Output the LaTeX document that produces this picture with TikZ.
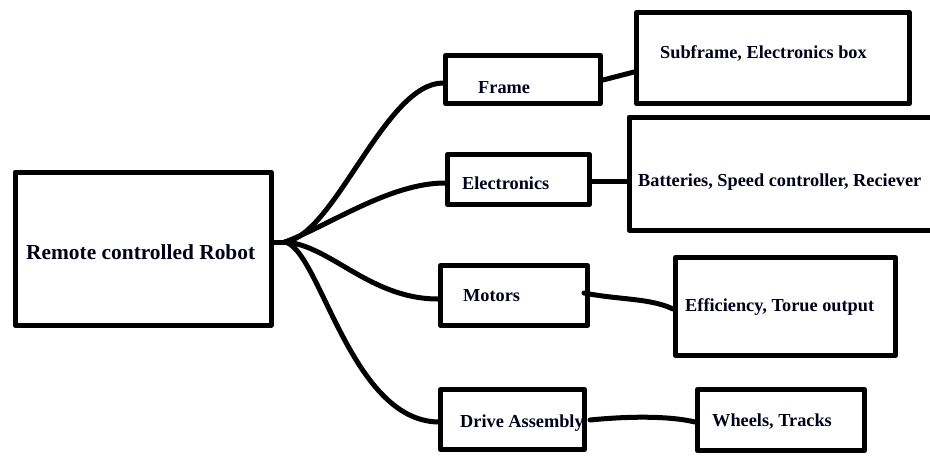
\documentclass[tikz,border=0pt]{standalone}
\usepackage{fontspec}
\setmainfont{Liberation Serif}
\begin{document}
\begin{tikzpicture}[x=1pt,y=-1pt,
  box/.style={draw=black,line width=5pt,line join=round,rectangle,inner sep=0pt,fill=none},
  lbl/.style={anchor=west,inner sep=0pt,font=\fontsize{18.3}{22}\selectfont\bfseries,text=black!90!blue},
  conn/.style={draw=black,line width=5pt,line cap=round,line join=round}]
\useasboundingbox (0,0) rectangle (930,456);
\clip (0,0) rectangle (930,456);
% boxes
\node[box,minimum width=256pt,minimum height=153pt] (main) at (143,248.5) {};
\node[box,minimum width=155pt,minimum height=48pt] (frame) at (523,79.5) {};
\node[box,minimum width=273pt,minimum height=91pt] (sub) at (773,58) {};
\node[box,minimum width=142pt,minimum height=50pt] (elec) at (518.5,179.5) {};
\node[box,minimum width=316pt,minimum height=113pt] (batt) at (787,173.5) {};
\node[box,minimum width=147pt,minimum height=60pt] (mot) at (514,295.5) {};
\node[box,minimum width=220pt,minimum height=98pt] (eff) at (785.5,306.5) {};
\node[box,minimum width=144pt,minimum height=60pt] (drive) at (512.5,419.5) {};
\node[box,minimum width=167pt,minimum height=61pt] (wheel) at (781,420) {};
% labels
\node[lbl,font=\fontsize{21.4}{25}\selectfont\bfseries] (tmain) at (26,252) {Remote controlled Robot};
\node[lbl] (tsub) at (660,53) {Subframe, Electronics box};
\node[lbl] (tframe) at (478,88) {Frame};
\node[lbl] (telec) at (462,183) {Electronics};
\node[lbl] (tbatt) at (638,182) {Batteries, Speed controller, Reciever};
\node[lbl] (tmot) at (463,296) {Motors};
\node[lbl] (teff) at (685,307) {Efficiency, Torue output};
\node[lbl] (tdrive) at (460,423) {Drive Assembly};
\node[lbl] (twheel) at (712,422) {Wheels, Tracks};
% connector points
\coordinate (j) at (main.east |- 0,242);
\coordinate (j2) at (285,242);
\coordinate (fin) at (frame.west |- 0,83);
\coordinate (ein) at (elec.west |- 0,183);
\coordinate (min) at (mot.west |- 0,299);
\coordinate (din) at (drive.west |- 0,422);
\coordinate (fout) at (frame.east |- 0,80);
\coordinate (sin) at (sub.west |- 0,72);
\coordinate (eout) at (elec.east |- 0,181);
\coordinate (bin) at (batt.west |- 0,181);
\coordinate (mout) at (584,293);
\coordinate (effin) at (eff.west |- 0,309);
\coordinate (dout) at (590,420);
\coordinate (win) at (wheel.west |- 0,422);
% connectors
\draw[conn] (j) -- (j2);
\draw[conn] (j2) .. controls (335,235) and (385,83) .. (fin);
\draw[conn] (j2) .. controls (330,225) and (390,183) .. (ein);
\draw[conn] (j2) .. controls (330,245) and (370,299) .. (min);
\draw[conn] (j2) .. controls (320,250) and (350,420) .. (din);
\draw[conn] (fout) -- (sin);
\draw[conn] (eout) -- (bin);
\draw[conn] (mout) .. controls (620,300) and (650,298) .. (effin);
\draw[conn] (dout) .. controls (630,416) and (670,416) .. (win);
\end{tikzpicture}
\end{document}
